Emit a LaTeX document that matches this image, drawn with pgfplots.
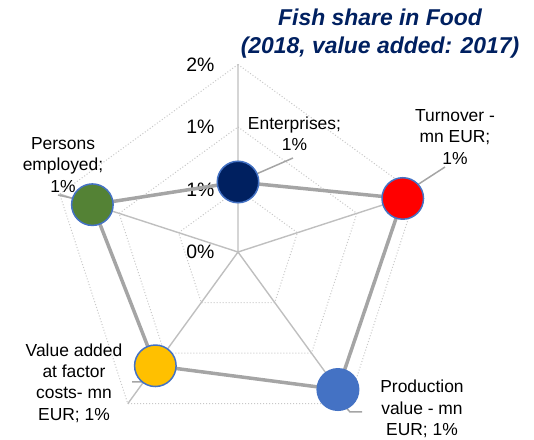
\documentclass[border=0pt]{standalone}
\usepackage{fontspec}
\setmainfont{Liberation Sans}
\usepackage{pgfplots}
\pgfplotsset{compat=1.18}
\definecolor{navy}{HTML}{002060}
\definecolor{accblue}{HTML}{4472C4}
\definecolor{tred}{HTML}{FF0000}
\definecolor{gold}{HTML}{FFC000}
\definecolor{pgreen}{HTML}{548235}
\definecolor{lineg}{HTML}{A5A5A5}
\definecolor{spokec}{HTML}{BFBFBF}
\definecolor{ringc}{HTML}{C8C8C8}
\begin{document}
\begin{tikzpicture}
\begin{axis}[
  scale only axis, width=534bp, height=440bp,
  xmin=-1.904, xmax=2.368, ymin=-1.504, ymax=2.016,
  axis x line=none, axis y line=center,
  y axis line style={draw=none},
  xtick=\empty,
  ytick={0,0.5,1,1.5}, yticklabels={0\%,1\%,1\%,2\%},
  major tick length=0pt,
  yticklabel style={font=\fontsize{19.5}{22}\selectfont, anchor=east, xshift=-20bp},
  clip=false,
]
% rings
\addplot[ringc, line width=1bp, dash pattern=on 1bp off 2bp, data cs=polar] coordinates {(90,0.5)(18,0.5)(-54,0.5)(-126,0.5)(162,0.5)(90,0.5)};
\addplot[ringc, line width=1bp, dash pattern=on 1bp off 2bp, data cs=polar] coordinates {(90,1)(18,1)(-54,1)(-126,1)(162,1)(90,1)};
\addplot[ringc, line width=1bp, dash pattern=on 1bp off 2bp, data cs=polar] coordinates {(90,1.5)(18,1.5)(-54,1.5)(-126,1.5)(162,1.5)(90,1.5)};
% spokes
\addplot[spokec, line width=1.4bp, data cs=polar] coordinates {(90,1.5)(0,0)(18,1.5)(0,0)(-54,1.5)(0,0)(-126,1.5)(0,0)(162,1.5)};
% series
\addplot[lineg, line width=3.5bp, data cs=polar] coordinates {(90,0.56)(18,1.386)(-54,1.36)(-126,1.125)(162,1.225)(90,0.56)};
\addplot[only marks, mark=*, mark size=20.75bp, mark options={draw=accblue, fill=navy, line width=1.5bp}, data cs=polar] coordinates {(90,0.56)};
\addplot[only marks, mark=*, mark size=20.75bp, mark options={draw=accblue, fill=tred, line width=1.5bp}, data cs=polar] coordinates {(18,1.386)};
\addplot[only marks, mark=*, mark size=20.75bp, mark options={draw=accblue, fill=accblue, line width=1.5bp}, data cs=polar] coordinates {(-54,1.36)};
\addplot[only marks, mark=*, mark size=20.75bp, mark options={draw=accblue, fill=gold, line width=1.5bp}, data cs=polar] coordinates {(-126,1.125)};
\addplot[only marks, mark=*, mark size=20.75bp, mark options={draw=accblue, fill=pgreen, line width=1.5bp}, data cs=polar] coordinates {(162,1.225)};
% leader lines
\draw[lineg, line width=1.5bp] (axis cs:0,0.56) -- (axis cs:0.44,0.752);
\draw[lineg, line width=1.5bp] (axis cs:1.31,0.456) -- (axis cs:1.656,0.68);
\draw[lineg, line width=1.5bp] (axis cs:-1.44,0.456) -- (axis cs:-1.16,0.392);
\draw[lineg, line width=1.5bp] (axis cs:-0.848,-1.04) -- (axis cs:-0.76,-1.04) -- (axis cs:-0.672,-0.904);
\draw[lineg, line width=1.5bp] (axis cs:0.76,-1.128) -- (axis cs:0.896,-1.28) -- (axis cs:0.992,-1.28);
% data labels
\begin{scope}[every node/.style={align=center, inner sep=0pt, font=\fontsize{17.5}{21.5}\selectfont}]
\node at (axis cs:0.452,0.944) {Enterprises;\\1\%};
\node at (axis cs:1.736,0.92) {Turnover -\\mn EUR;\\1\%};
\node at (axis cs:-1.4,0.696) {Persons\\employed;\\1\%};
\node at (axis cs:-1.312,-1.048) {Value added\\at factor\\costs- mn\\EUR; 1\%};
\node at (axis cs:1.472,-1.256) {Production\\value - mn\\EUR; 1\%};
\end{scope}
% title
\node[align=center, inner sep=0pt, text=navy, font=\fontsize{23}{28}\selectfont\bfseries\itshape] at (axis cs:1.136,1.744) {Fish share in Food\\(2018, value added: 2017)};
\end{axis}
\pgfresetboundingbox
\useasboundingbox (current axis.south west) rectangle (current axis.north east);
\end{tikzpicture}
\end{document}
